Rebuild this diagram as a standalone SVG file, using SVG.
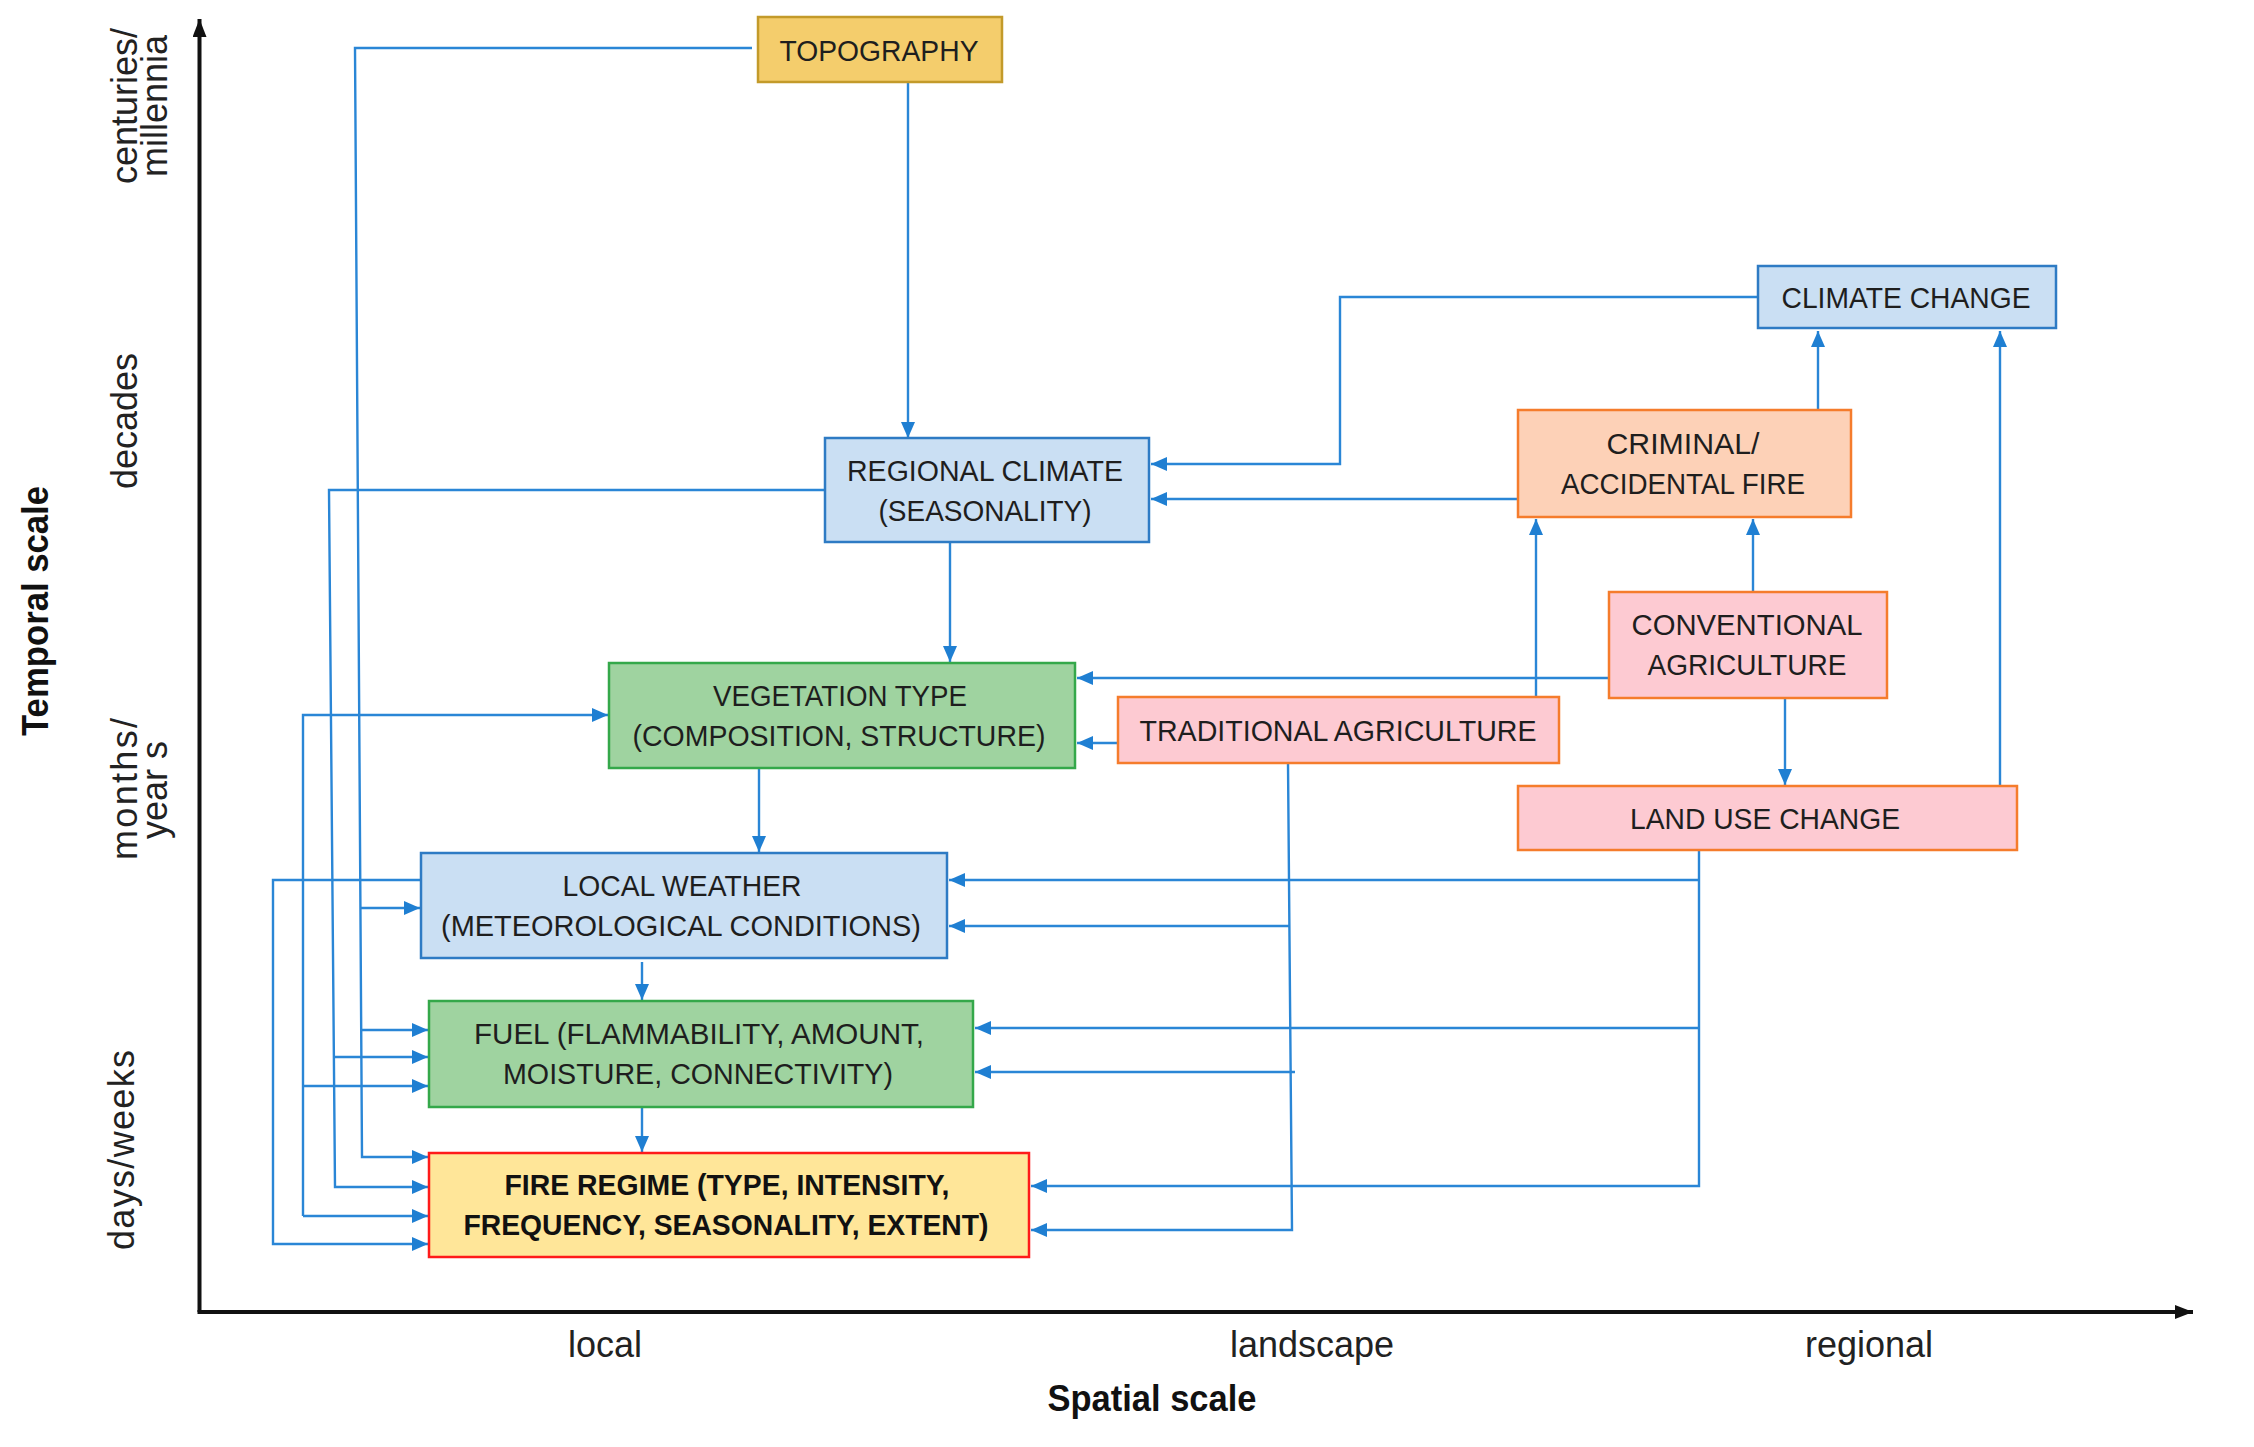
<svg xmlns="http://www.w3.org/2000/svg" width="2254" height="1447" viewBox="0 0 2254 1447">
  <style>
    .box { stroke-width: 2.5; }
    .blue { fill: #cadff3; stroke: #2e7bc4; }
    .green { fill: #9fd3a0; stroke: #34a84a; }
    .gold { fill: #f4cd6c; stroke: #c39a2a; }
    .peach { fill: #fdd1b7; stroke: #f57c2c; }
    .pink { fill: #fdcad2; stroke: #f57c2c; }
    .fire { fill: #ffe699; stroke: #ff1a1a; }
    .lbl { font-family: "Liberation Sans", Arial, sans-serif; font-size: 30px; fill: #1e1e1e; text-anchor: middle; }
    .bold { font-weight: bold; fill: #111; }
    .axis-lbl { font-family: "Liberation Sans", Arial, sans-serif; font-size: 36px; fill: #222; text-anchor: middle; }
    .axis-title { font-family: "Liberation Sans", Arial, sans-serif; font-size: 36px; font-weight: bold; fill: #111; text-anchor: middle; }
    .conn path { fill: none; stroke: #2a86d6; stroke-width: 2.4; }
    .axes path { fill: none; stroke: #111; stroke-width: 4; }
  </style>
  <defs>
    <marker id="arrow" markerUnits="userSpaceOnUse" markerWidth="16" markerHeight="14" refX="16" refY="7" orient="auto">
      <path d="M0,0 L16,7 L0,14 z" fill="#1f7fd2"/>
    </marker>
    <marker id="axis-arrow" markerUnits="userSpaceOnUse" markerWidth="18" markerHeight="14" refX="18" refY="7" orient="auto">
      <path d="M0,0 L18,7 L0,14 z" fill="#111"/>
    </marker>
  </defs>

  <rect width="2254" height="1447" fill="#ffffff"/>

  <!-- axes -->
  <g id="axes" class="axes">
    <path d="M199.5,1312 V19" marker-end="url(#axis-arrow)"/>
    <path d="M197.5,1312 H2193" marker-end="url(#axis-arrow)"/>
  </g>

  <!-- temporal scale labels -->
  <g id="temporal-labels">
    <text class="axis-title" transform="translate(48,611) rotate(-90)" textLength="250" lengthAdjust="spacingAndGlyphs">Temporal scale</text>
    <text class="axis-lbl" transform="translate(137,106) rotate(-90)">centuries/</text>
    <text class="axis-lbl" transform="translate(167,106) rotate(-90)">millennia</text>
    <text class="axis-lbl" transform="translate(137,421) rotate(-90)">decades</text>
    <text class="axis-lbl" transform="translate(137,789) rotate(-90)" textLength="142" lengthAdjust="spacing">months/</text>
    <text class="axis-lbl" transform="translate(167,790) rotate(-90)">year s</text>
    <text class="axis-lbl" transform="translate(134,1150) rotate(-90)" textLength="200" lengthAdjust="spacing">days/weeks</text>
  </g>

  <!-- spatial scale labels -->
  <g id="spatial-labels">
    <text class="axis-lbl" x="605" y="1357">local</text>
    <text class="axis-lbl" x="1312" y="1357">landscape</text>
    <text class="axis-lbl" x="1869" y="1357">regional</text>
    <text class="axis-title" x="1152" y="1411" textLength="209" lengthAdjust="spacingAndGlyphs">Spatial scale</text>
  </g>

  <!-- connectors -->
  <g id="connectors" class="conn">
    <!-- topography: down to regional climate, and round the left to weather, fuel, fire regime -->
    <path d="M908,82 V438" marker-end="url(#arrow)"/>
    <path d="M752,48 H355 L362,1157 H428" marker-end="url(#arrow)"/>
    <path d="M360,908 H420" marker-end="url(#arrow)"/>
    <path d="M361,1030 H428" marker-end="url(#arrow)"/>

    <!-- regional climate: down to vegetation, and round the left to fuel and fire regime -->
    <path d="M950,542 V662" marker-end="url(#arrow)"/>
    <path d="M825,490 H329 L335,1187 H428" marker-end="url(#arrow)"/>
    <path d="M334,1057 H428" marker-end="url(#arrow)"/>

    <!-- local weather to fire regime, outer loop -->
    <path d="M421,880 H273 V1244 H428" marker-end="url(#arrow)"/>

    <!-- left feed line to vegetation, fuel and fire regime -->
    <path d="M303,1216 V715 H608" marker-end="url(#arrow)"/>
    <path d="M303,1086 H428" marker-end="url(#arrow)"/>
    <path d="M303,1216 H428" marker-end="url(#arrow)"/>

    <!-- main vertical chain -->
    <path d="M759,768 V852" marker-end="url(#arrow)"/>
    <path d="M642,962 V1000" marker-end="url(#arrow)"/>
    <path d="M642,1108 V1152" marker-end="url(#arrow)"/>

    <!-- climate change to regional climate -->
    <path d="M1758,297 H1340 V464 H1151" marker-end="url(#arrow)"/>
    <!-- criminal / accidental fire to regional climate and climate change -->
    <path d="M1518,499 H1151" marker-end="url(#arrow)"/>
    <path d="M1818,410 V331" marker-end="url(#arrow)"/>
    <!-- land use change to climate change -->
    <path d="M2000,786 V331" marker-end="url(#arrow)"/>
    <!-- agriculture to criminal / accidental fire -->
    <path d="M1536,697 V519" marker-end="url(#arrow)"/>
    <path d="M1753,592 V519" marker-end="url(#arrow)"/>
    <!-- agriculture to vegetation -->
    <path d="M1609,678 H1077" marker-end="url(#arrow)"/>
    <path d="M1118,743 H1077" marker-end="url(#arrow)"/>
    <!-- conventional agriculture to land use change -->
    <path d="M1785,698 V785" marker-end="url(#arrow)"/>

    <!-- traditional agriculture to weather, fuel, fire regime -->
    <path d="M1288,763 L1292,1230 H1031" marker-end="url(#arrow)"/>
    <path d="M1290,926 H949" marker-end="url(#arrow)"/>
    <path d="M1295,1072 H975" marker-end="url(#arrow)"/>

    <!-- land use change to weather, fuel, fire regime -->
    <path d="M1699,850 V1186 H1031" marker-end="url(#arrow)"/>
    <path d="M1699,880 H949" marker-end="url(#arrow)"/>
    <path d="M1699,1028 H975" marker-end="url(#arrow)"/>
  </g>

  <!-- nodes -->
  <g id="topography">
    <rect class="box gold" x="758" y="17" width="244" height="65"/>
    <text class="lbl" x="879" y="60.5" textLength="199" lengthAdjust="spacingAndGlyphs">TOPOGRAPHY</text>
  </g>

  <g id="regional-climate">
    <rect class="box blue" x="825" y="438" width="324" height="104"/>
    <text class="lbl" x="985" y="480.5" textLength="276" lengthAdjust="spacingAndGlyphs">REGIONAL CLIMATE</text>
    <text class="lbl" x="985" y="520.5" textLength="213" lengthAdjust="spacingAndGlyphs">(SEASONALITY)</text>
  </g>

  <g id="climate-change">
    <rect class="box blue" x="1758" y="266" width="298" height="62"/>
    <text class="lbl" x="1906" y="308" textLength="249" lengthAdjust="spacingAndGlyphs">CLIMATE CHANGE</text>
  </g>

  <g id="criminal-accidental-fire">
    <rect class="box peach" x="1518" y="410" width="333" height="107"/>
    <text class="lbl" x="1683" y="453.5" textLength="153" lengthAdjust="spacingAndGlyphs">CRIMINAL/</text>
    <text class="lbl" x="1683" y="493.5" textLength="244" lengthAdjust="spacingAndGlyphs">ACCIDENTAL FIRE</text>
  </g>

  <g id="conventional-agriculture">
    <rect class="box pink" x="1609" y="592" width="278" height="106"/>
    <text class="lbl" x="1747" y="634.5" textLength="231" lengthAdjust="spacingAndGlyphs">CONVENTIONAL</text>
    <text class="lbl" x="1747" y="674.5" textLength="199" lengthAdjust="spacingAndGlyphs">AGRICULTURE</text>
  </g>

  <g id="traditional-agriculture">
    <rect class="box pink" x="1118" y="697" width="441" height="66"/>
    <text class="lbl" x="1338" y="741" textLength="397" lengthAdjust="spacingAndGlyphs">TRADITIONAL AGRICULTURE</text>
  </g>

  <g id="land-use-change">
    <rect class="box pink" x="1518" y="786" width="499" height="64"/>
    <text class="lbl" x="1765" y="829" textLength="270" lengthAdjust="spacingAndGlyphs">LAND USE CHANGE</text>
  </g>

  <g id="vegetation-type">
    <rect class="box green" x="609" y="663" width="466" height="105"/>
    <text class="lbl" x="840" y="705.5" textLength="254" lengthAdjust="spacingAndGlyphs">VEGETATION TYPE</text>
    <text class="lbl" x="839" y="745.5" textLength="413" lengthAdjust="spacingAndGlyphs">(COMPOSITION, STRUCTURE)</text>
  </g>

  <g id="local-weather">
    <rect class="box blue" x="421" y="853" width="526" height="105"/>
    <text class="lbl" x="682" y="895.5" textLength="239" lengthAdjust="spacingAndGlyphs">LOCAL WEATHER</text>
    <text class="lbl" x="681" y="935.5" textLength="480" lengthAdjust="spacingAndGlyphs">(METEOROLOGICAL CONDITIONS)</text>
  </g>

  <g id="fuel">
    <rect class="box green" x="429" y="1001" width="544" height="106"/>
    <text class="lbl" x="699" y="1043.5" textLength="450" lengthAdjust="spacingAndGlyphs">FUEL (FLAMMABILITY, AMOUNT,</text>
    <text class="lbl" x="698" y="1083.5" textLength="390" lengthAdjust="spacingAndGlyphs">MOISTURE, CONNECTIVITY)</text>
  </g>

  <g id="fire-regime">
    <rect class="box fire" x="429" y="1153" width="600" height="104"/>
    <text class="lbl bold" x="727" y="1195" textLength="445" lengthAdjust="spacingAndGlyphs">FIRE REGIME (TYPE, INTENSITY,</text>
    <text class="lbl bold" x="726" y="1235" textLength="525" lengthAdjust="spacingAndGlyphs">FREQUENCY, SEASONALITY, EXTENT)</text>
  </g>
</svg>
